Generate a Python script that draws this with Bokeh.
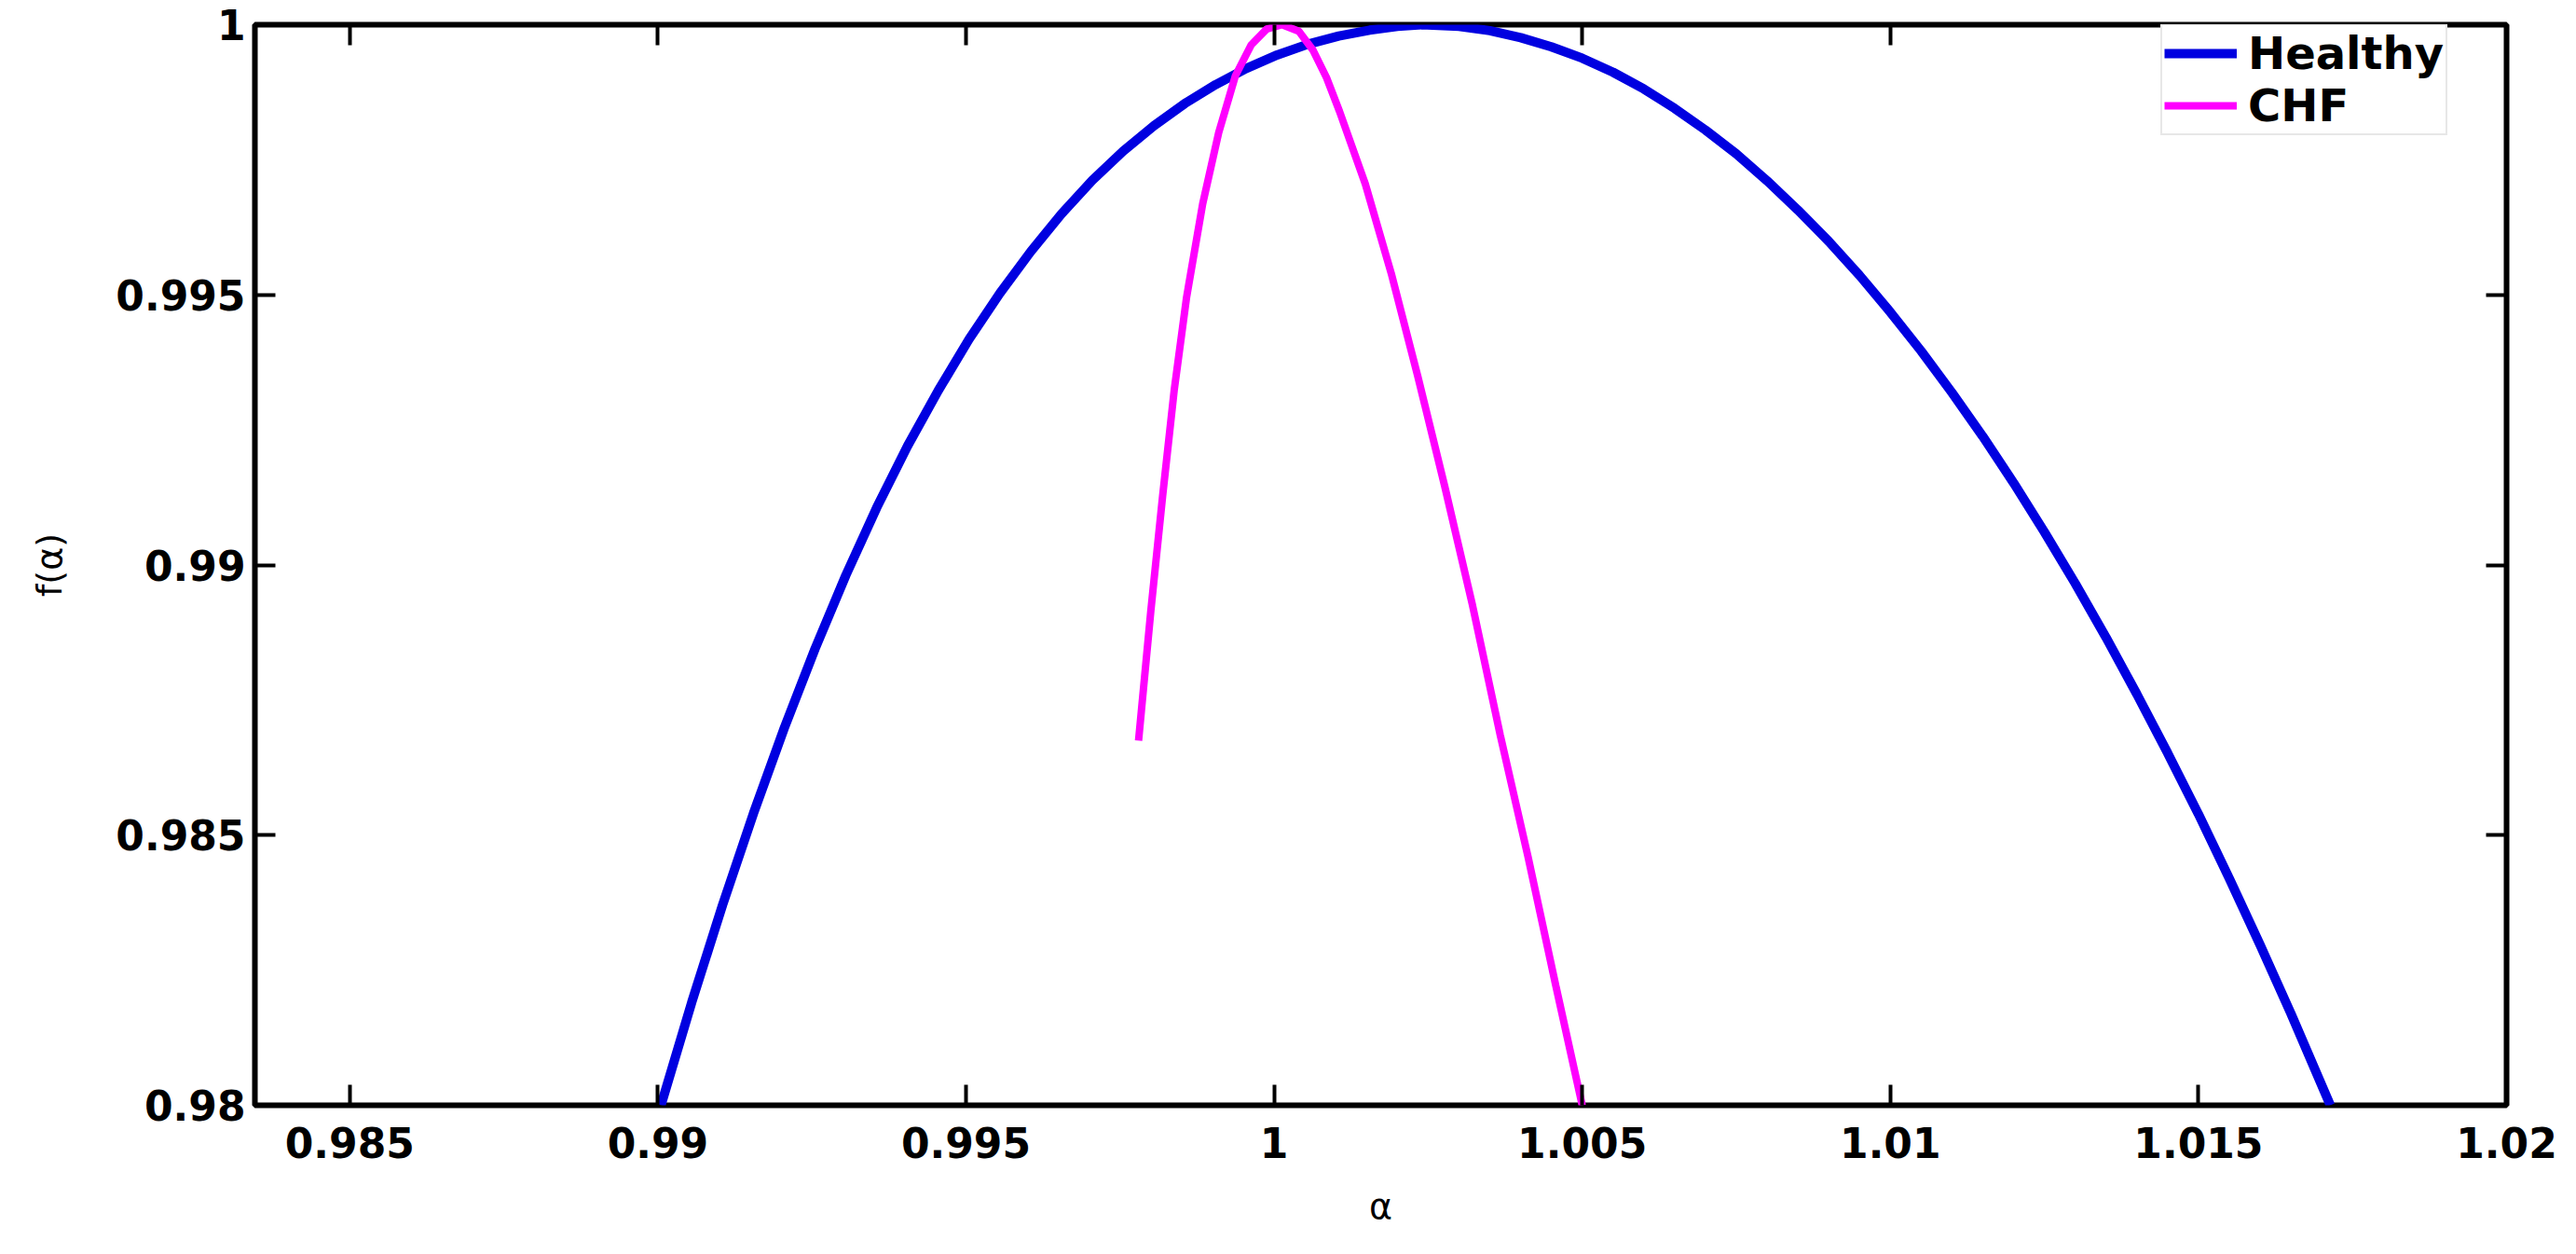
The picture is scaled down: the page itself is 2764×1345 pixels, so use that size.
from bokeh.plotting import figure
from bokeh.models import FixedTicker, LinearAxis, Range1d
from bokeh.embed import file_html
from bokeh.resources import INLINE

# ---- data ----
alpha_healthy = [0.99005, 0.99055, 0.99105, 0.99155, 0.99205, 0.99255, 0.99305, 0.99355,
                 0.99405, 0.99455, 0.99505, 0.99555, 0.99605, 0.99655, 0.99705, 0.99755,
                 0.99805, 0.99855, 0.99905, 0.99955, 1.00005, 1.00055, 1.00105, 1.00155,
                 1.00200, 1.00240, 1.00300, 1.00350, 1.00400, 1.00450, 1.00500, 1.00550,
                 1.00600, 1.00650, 1.00700, 1.00750, 1.00800, 1.00850, 1.00900, 1.00950,
                 1.01000, 1.01050, 1.01100, 1.01150, 1.01200, 1.01250, 1.01300, 1.01350,
                 1.01400, 1.01450, 1.01500, 1.01550, 1.01600, 1.01650, 1.01714]
f_healthy = [0.98000, 0.98191, 0.98371, 0.98540, 0.98698, 0.98845, 0.98981, 0.99106,
             0.99220, 0.99323, 0.99418, 0.99503, 0.99580, 0.99650, 0.99712, 0.99766,
             0.99813, 0.99854, 0.99889, 0.99919, 0.99944, 0.99964, 0.99979, 0.99990,
             0.99997, 1.00000, 0.99997, 0.99989, 0.99976, 0.99959, 0.99938, 0.99912,
             0.99881, 0.99845, 0.99805, 0.99761, 0.99711, 0.99657, 0.99599, 0.99536,
             0.99468, 0.99396, 0.99319, 0.99238, 0.99152, 0.99061, 0.98966, 0.98866,
             0.98761, 0.98652, 0.98539, 0.98420, 0.98297, 0.98170, 0.98000]

alpha_chf = [0.99780, 0.99800, 0.99819, 0.99838, 0.99858, 0.99884, 0.99910, 0.99937,
             0.99963, 0.99988, 1.00013, 1.00040, 1.00063, 1.00085, 1.00106, 1.00148,
             1.00190, 1.00233, 1.00277, 1.00322, 1.00367, 1.00412, 1.00457, 1.00500]
f_chf = [0.98675, 0.98916, 0.99127, 0.99325, 0.99496, 0.99668, 0.99800, 0.99905,
         0.99963, 0.99992, 1.00000, 0.99988, 0.99953, 0.99902, 0.99840, 0.99705,
         0.99540, 0.99350, 0.99145, 0.98925, 0.98685, 0.98460, 0.98222, 0.98000]

series_names = ["Healthy", "CHF"]
series_colors = ["#0000E0", "#FF00FF"]

x_ticks = [0.985, 0.99, 0.995, 1.0, 1.005, 1.01, 1.015, 1.02]
x_tick_labels = ["0.985", "0.99", "0.995", "1", "1.005", "1.01", "1.015", "1.02"]
y_ticks = [0.98, 0.985, 0.99, 0.995, 1.0]
y_tick_labels = ["0.98", "0.985", "0.99", "0.995", "1"]

x_label = "\u03b1"
y_label = "f(\u03b1)"

FONT = "DejaVu Sans"

p = figure(width=2748, height=1329, output_backend="svg", toolbar_location=None,
           x_range=Range1d(0.98346, 1.02), y_range=Range1d(0.98, 1.0),
           min_border_left=273, min_border_right=59, min_border_top=26,
           min_border_bottom=144)

p.background_fill_color = "white"
p.border_fill_color = "white"
p.outline_line_color = "black"
p.outline_line_width = 6
p.grid.visible = False

p.line(alpha_healthy, f_healthy, line_color=series_colors[0], line_width=10,
       legend_label=series_names[0])
p.line(alpha_chf, f_chf, line_color=series_colors[1], line_width=8,
       legend_label=series_names[1])

def style_axis(ax, labels_on=True):
    ax.axis_line_color = None
    ax.major_tick_in = 22
    ax.major_tick_out = 0
    ax.major_tick_line_width = 4
    ax.major_tick_line_color = "black"
    ax.minor_tick_line_color = None
    ax.major_label_text_font = FONT
    ax.major_label_text_font_style = "bold"
    ax.major_label_text_font_size = "44px"
    ax.major_label_text_color = "black"
    if not labels_on:
        ax.major_label_text_font_size = "0px"
        ax.major_label_text_alpha = 0
        ax.major_label_standoff = 0

xaxis = p.xaxis[0]
xaxis.ticker = FixedTicker(ticks=x_ticks)
xaxis.major_label_overrides = dict(zip(x_ticks, x_tick_labels))
style_axis(xaxis)
xaxis.major_label_standoff = 23
xaxis.axis_label = x_label
xaxis.axis_label_text_font = FONT
xaxis.axis_label_text_font_style = "normal"
xaxis.axis_label_text_font_size = "38px"
xaxis.axis_label_text_color = "black"
xaxis.axis_label_standoff = 27

yaxis = p.yaxis[0]
yaxis.ticker = FixedTicker(ticks=y_ticks)
yaxis.major_label_overrides = dict(zip(y_ticks, y_tick_labels))
style_axis(yaxis)
yaxis.major_label_standoff = 10
yaxis.axis_label = y_label
yaxis.axis_label_text_font = FONT
yaxis.axis_label_text_font_style = "normal"
yaxis.axis_label_text_font_size = "38px"
yaxis.axis_label_text_color = "black"
yaxis.axis_label_standoff = 46

top_axis = LinearAxis(ticker=FixedTicker(ticks=x_ticks))
style_axis(top_axis, labels_on=False)
p.add_layout(top_axis, "above")

right_axis = LinearAxis(ticker=FixedTicker(ticks=y_ticks))
style_axis(right_axis, labels_on=False)
p.add_layout(right_axis, "right")

lg = p.legend[0]
lg.location = (2045, 1040)
lg.label_text_font = FONT
lg.label_text_font_style = "bold"
lg.label_text_font_size = "48px"
lg.label_text_color = "black"
lg.glyph_width = 78
lg.glyph_height = 48
lg.label_height = 48
lg.label_standoff = 12
lg.spacing = 0
lg.padding = 2
lg.margin = 0
lg.border_line_color = "#d0d0d0"
lg.border_line_width = 2
lg.background_fill_color = "white"
lg.background_fill_alpha = 1.0

open("out.html", "w").write(file_html(p, INLINE))
